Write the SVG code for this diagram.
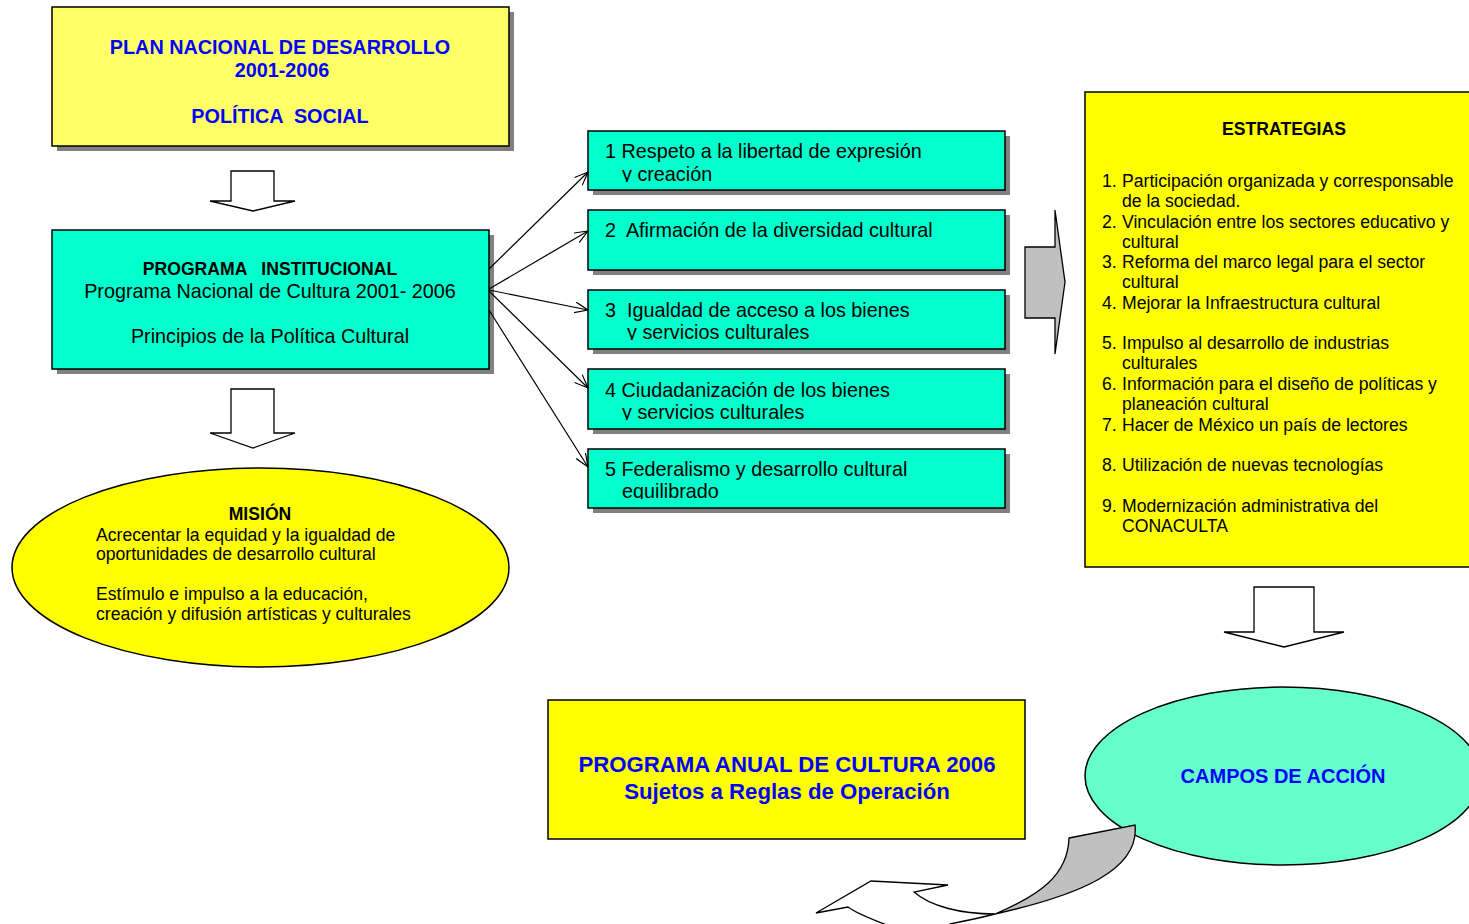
<svg xmlns="http://www.w3.org/2000/svg" width="1469" height="924" viewBox="0 0 1469 924">
<style>
  .box { stroke: #000; stroke-width: 1.5; }
  .shadow { fill: #808080; }
  .cyan { fill: #00FFCC; }
  .yel { fill: #FFFF00; }
  .lyel { fill: #FFFF66; }
  .blk { stroke: #000; stroke-width: 1.3; fill: #fff; }
  .gray { stroke: #000; stroke-width: 1.3; fill: #C0C0C0; }
  text { font-family: "Liberation Sans", Arial, sans-serif; fill: #000; }
  .bt { font-weight: bold; fill: #0000FF; }
  .b { font-weight: bold; }
  .p20 { font-size: 19.8px; }
  .p17 { font-size: 17.6px; }
  .conn { stroke: #000; stroke-width: 1.2; fill: none; marker-end: url(#open); }
</style>
<defs>
  <marker id="open" viewBox="0 0 14 12" refX="13.5" refY="6" markerWidth="14" markerHeight="12" markerUnits="userSpaceOnUse" orient="auto">
    <path d="M0,0.5 L13.5,6 L0,11.5" fill="none" stroke="#000" stroke-width="1.2"/>
  </marker>
  <clipPath id="c1"><rect x="588" y="131" width="417" height="51"/></clipPath>
  <clipPath id="c3"><rect x="588" y="290" width="417" height="50"/></clipPath>
  <clipPath id="c4"><rect x="588" y="369" width="417" height="51"/></clipPath>
  <clipPath id="c5"><rect x="588" y="449" width="417" height="50"/></clipPath>
</defs>

<g id="plan">
  <rect class="shadow" x="57" y="12" width="457" height="139"/>
  <rect class="box lyel" x="52" y="7" width="457" height="139"/>
  <text class="bt p20" x="280" y="54" text-anchor="middle">PLAN NACIONAL DE DESARROLLO</text>
  <text class="bt p20" x="282" y="77" text-anchor="middle">2001-2006</text>
  <text class="bt p20" x="280" y="123" text-anchor="middle" xml:space="preserve">POLÍTICA  SOCIAL</text>
</g>

<g id="arrow-plan-programa">
  <path class="blk" d="M231,171 L274,171 L274,201 L295,201 L253,211 L210,201 L231,201 Z"/>
</g>

<g id="programa">
  <rect class="shadow" x="57" y="235" width="437" height="139"/>
  <rect class="box cyan" x="52" y="230" width="437" height="139"/>
  <text class="b p17" x="270" y="275" text-anchor="middle" xml:space="preserve">PROGRAMA   INSTITUCIONAL</text>
  <text class="p20" x="270" y="298" text-anchor="middle">Programa Nacional de Cultura 2001- 2006</text>
  <text class="p20" x="270" y="343" text-anchor="middle">Principios de la Política Cultural</text>
</g>

<g id="arrow-programa-mision">
  <path class="blk" d="M231,389 L274,389 L274,433 L295,433 L253,448 L210,433 L231,433 Z"/>
</g>

<g id="mision">
  <ellipse class="box yel" cx="260.5" cy="567.5" rx="248.5" ry="99.5"/>
  <text class="b p17" x="260" y="520" text-anchor="middle">MISIÓN</text>
  <text class="p17" x="96" y="541">Acrecentar la equidad y la igualdad de</text>
  <text class="p17" x="96" y="560">oportunidades de desarrollo cultural</text>
  <text class="p17" x="96" y="600">Estímulo e impulso a la educación,</text>
  <text class="p17" x="96" y="620">creación y difusión artísticas y culturales</text>
</g>

<g id="principio1">
  <rect class="shadow" x="593" y="136" width="417" height="59"/>
  <rect class="box cyan" x="588" y="131" width="417" height="59"/>
  <g clip-path="url(#c1)">
    <text class="p20" x="605" y="158">1 Respeto a la libertad de expresión</text>
    <text class="p20" x="622" y="181">y creación</text>
  </g>
</g>
<g id="principio2">
  <rect class="shadow" x="593" y="215" width="417" height="60"/>
  <rect class="box cyan" x="588" y="210" width="417" height="60"/>
  <text class="p20" x="605" y="237" xml:space="preserve">2  Afirmación de la diversidad cultural</text>
</g>
<g id="principio3">
  <rect class="shadow" x="593" y="295" width="417" height="59"/>
  <rect class="box cyan" x="588" y="290" width="417" height="59"/>
  <g clip-path="url(#c3)">
    <text class="p20" x="605" y="317" xml:space="preserve">3  Igualdad de acceso a los bienes</text>
    <text class="p20" x="627" y="339">y servicios culturales</text>
  </g>
</g>
<g id="principio4">
  <rect class="shadow" x="593" y="374" width="417" height="60"/>
  <rect class="box cyan" x="588" y="369" width="417" height="60"/>
  <g clip-path="url(#c4)">
    <text class="p20" x="605" y="397">4 Ciudadanización de los bienes</text>
    <text class="p20" x="622" y="419">y servicios culturales</text>
  </g>
</g>
<g id="principio5">
  <rect class="shadow" x="593" y="454" width="417" height="59"/>
  <rect class="box cyan" x="588" y="449" width="417" height="59"/>
  <g clip-path="url(#c5)">
    <text class="p20" x="605" y="476">5 Federalismo y desarrollo cultural</text>
    <text class="p20" x="622" y="498">equilibrado</text>
  </g>
</g>

<g id="connectors">
  <line class="conn" x1="489" y1="269" x2="588" y2="172"/>
  <line class="conn" x1="489" y1="289" x2="588" y2="231"/>
  <line class="conn" x1="489" y1="290" x2="588" y2="310"/>
  <line class="conn" x1="489" y1="291" x2="588" y2="388"/>
  <line class="conn" x1="489" y1="310" x2="588" y2="467"/>
</g>

<g id="arrow-principios-estrategias">
  <path class="gray" d="M1025,247 L1055,247 L1055,210 L1065,282 L1055,354 L1055,318 L1025,318 Z"/>
</g>

<g id="estrategias">
  <rect class="box yel" x="1085" y="92" width="420" height="475"/>
  <text class="b p17" x="1284" y="135" text-anchor="middle">ESTRATEGIAS</text>
  <g>
    <text class="p17" x="1102" y="187">1.</text><text class="p17" x="1122" y="187">Participación organizada y corresponsable</text>
    <text class="p17" x="1122" y="207">de la sociedad.</text>
    <text class="p17" x="1102" y="228">2.</text><text class="p17" x="1122" y="228">Vinculación entre los sectores educativo y</text>
    <text class="p17" x="1122" y="248">cultural</text>
    <text class="p17" x="1102" y="268">3.</text><text class="p17" x="1122" y="268">Reforma del marco legal para el sector</text>
    <text class="p17" x="1122" y="288">cultural</text>
    <text class="p17" x="1102" y="309">4.</text><text class="p17" x="1122" y="309">Mejorar la Infraestructura cultural</text>
    <text class="p17" x="1102" y="349">5.</text><text class="p17" x="1122" y="349">Impulso al desarrollo de industrias</text>
    <text class="p17" x="1122" y="369">culturales</text>
    <text class="p17" x="1102" y="390">6.</text><text class="p17" x="1122" y="390">Información para el diseño de políticas y</text>
    <text class="p17" x="1122" y="410">planeación cultural</text>
    <text class="p17" x="1102" y="431">7.</text><text class="p17" x="1122" y="431">Hacer de México un país de lectores</text>
    <text class="p17" x="1102" y="471">8.</text><text class="p17" x="1122" y="471">Utilización de nuevas tecnologías</text>
    <text class="p17" x="1102" y="512">9.</text><text class="p17" x="1122" y="512">Modernización administrativa del</text>
    <text class="p17" x="1122" y="532">CONACULTA</text>
  </g>
</g>

<g id="arrow-estrategias-campos">
  <path class="blk" d="M1254,587 L1314,587 L1314,632 L1344,632 L1284,647 L1224,632 L1254,632 Z"/>
</g>

<g id="programa-anual">
  <rect class="box yel" x="548" y="700" width="477" height="139"/>
  <text class="bt" style="font-size:22.2px" x="787" y="772" text-anchor="middle">PROGRAMA ANUAL DE CULTURA 2006</text>
  <text class="bt" style="font-size:22.2px" x="787" y="799" text-anchor="middle">Sujetos a Reglas de Operación</text>
</g>

<g id="campos">
  <ellipse class="box" style="fill:#66FFCC" cx="1283" cy="776" rx="198" ry="89"/>
  <text class="bt" style="font-size:20px" x="1283" y="783" text-anchor="middle">CAMPOS DE ACCIÓN</text>
</g>

<g id="arrow-campos-programa">
  <path class="blk" d="M816,913 L871,881 L948,885 L914,892 C930,906 960,914 995,914 C980,918 965,921 950,924 L940,932 L905,932 C885,924 860,916 848,907 Z"/>
  <path class="gray" d="M1069,838 L1135,825 C1140,870 1080,895 995,914 C1040,895 1068,875 1069,838 Z"/>
</g>
</svg>
